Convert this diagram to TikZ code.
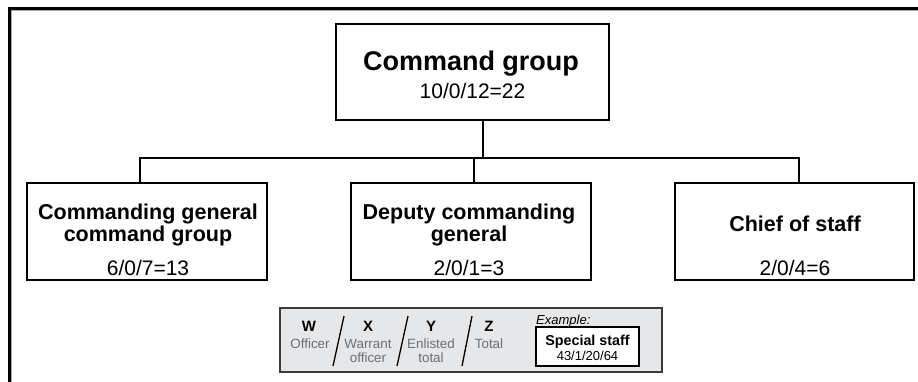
\documentclass[tikz,border=0pt]{standalone}
\usepackage{fontspec}
\setmainfont{Liberation Sans}
\definecolor{legfill}{HTML}{E6E7E8}
\definecolor{leggray}{HTML}{6D6E70}
\definecolor{legline}{HTML}{3A3A3A}
\begin{document}
\begin{tikzpicture}[x=1pt,y=-1pt,
  orgbox/.style={draw=black,line width=2.4pt,fill=white,inner sep=0pt},
  conn/.style={line width=2pt},
  ttl/.style={font=\bfseries\fontsize{27}{29}\selectfont,anchor=base,inner sep=0pt},
  sub/.style={font=\bfseries\fontsize{21.5}{22}\selectfont,anchor=base,inner sep=0pt},
  num/.style={font=\fontsize{21}{22}\selectfont,anchor=base,inner sep=0pt},
  lkey/.style={font=\bfseries\fontsize{15}{16}\selectfont,anchor=base,inner sep=0pt},
  ldesc/.style={font=\fontsize{13.4}{14}\selectfont,text=leggray,anchor=base,inner sep=0pt},
  slash/.style={line width=1.3pt}]
\useasboundingbox (0,0) rectangle (918,381);
\fill[white] (0,0) rectangle (918,381);
% outer frame (left and top edges visible)
\draw[line width=3pt,line cap=rect] (9.5,390) -- (9.5,8.5) -- (925,8.5);
\draw[line width=0.8pt,gray!70] (11.6,390) -- (11.6,10.6) -- (925,10.6);
% connector coordinates
\coordinate (busT) at (483,158);
\coordinate (jL) at (140,158);
\coordinate (jM) at (474,158);
\coordinate (jR) at (799,158);
% boxes
\node[orgbox,minimum width=273pt,minimum height=96pt] (top) at (472.5,72) {};
\node[orgbox,minimum width=240pt,minimum height=97pt] (cg) at (147,231.5) {};
\node[orgbox,minimum width=240pt,minimum height=97pt] (dcg) at (471,231.5) {};
\node[orgbox,minimum width=239pt,minimum height=97pt] (cos) at (794.5,231.5) {};
% connectors
\draw[conn] (top.south -| busT) -- (busT);
\draw[conn,line cap=rect] (jL) -- (jR);
\draw[conn] (jL) -- (jL |- cg.north);
\draw[conn] (jM) -- (jM |- dcg.north);
\draw[conn] (jR) -- (jR |- cos.north);
% texts
\node[ttl] (tTop) at (471,70) {Command group};
\node[num] (nTop) at (472.5,98) {10/0/12=22};
\node[sub] (tCg1) at (148,219) {Commanding general};
\node[sub] (tCg2) at (148,241) {command group};
\node[num] (nCg) at (148,275) {6/0/7=13};
\node[sub] (tD1) at (469,219) {Deputy commanding};
\node[sub] (tD2) at (469,241) {general};
\node[num] (nD) at (469,275) {2/0/1=3};
\node[sub] (tC) at (795,231) {Chief of staff};
\node[num] (nC) at (795,275) {2/0/4=6};
% legend
\node[draw=legline,line width=1.4pt,fill=legfill,inner sep=0pt,minimum width=382pt,minimum height=64pt] (legend) at (471,340) {};
\node[lkey] (kW) at (309,331) {W};
\node[ldesc] (dW) at (310,348) {Officer};
\node[lkey] (kX) at (368,331) {X};
\node[ldesc] (dX1) at (368,348) {Warrant};
\node[ldesc] (dX2) at (368,362) {officer};
\node[lkey] (kY) at (431,331) {Y};
\node[ldesc] (dY1) at (431,348) {Enlisted};
\node[ldesc] (dY2) at (431,362) {total};
\node[lkey] (kZ) at (489,331) {Z};
\node[ldesc] (dZ) at (489,348) {Total};
\coordinate (s1a) at (344,316); \coordinate (s1b) at (333,366);
\coordinate (s2a) at (408,316); \coordinate (s2b) at (397,366);
\coordinate (s3a) at (472,316); \coordinate (s3b) at (462,366);
\draw[slash] (s1a) -- (s1b);
\draw[slash] (s2a) -- (s2b);
\draw[slash] (s3a) -- (s3b);
\node[font=\itshape\fontsize{13}{14}\selectfont,anchor=base west,inner sep=0pt] (ex) at (536,324) {Example:};
\node[draw=black,line width=1.6pt,fill=white,inner sep=0pt,minimum width=103pt,minimum height=39pt] (sbox) at (587.5,346.5) {};
\node[font=\bfseries\fontsize{14.3}{15}\selectfont,anchor=base,inner sep=0pt] (sT) at (587.5,345) {Special staff};
\node[font=\fontsize{13}{14}\selectfont,anchor=base,inner sep=0pt] (sN) at (587.5,360) {43/1/20/64};
\end{tikzpicture}
\end{document}
